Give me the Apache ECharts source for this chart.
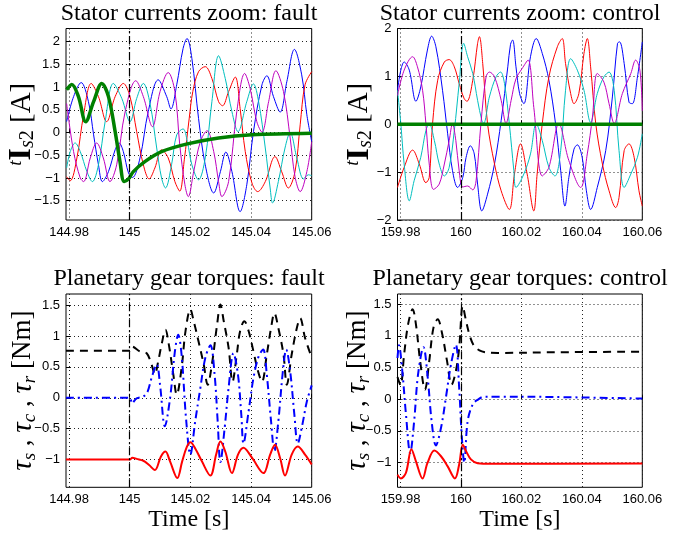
<!DOCTYPE html>
<html><head><meta charset="utf-8">
<script src="https://cdn.jsdelivr.net/npm/echarts@6/dist/echarts.min.js"></script>
<style>html,body{margin:0;padding:0;background:#fff}#c{width:684px;height:539px}</style>
</head><body><div id="c"></div>
<script>
// ---------- tick labels ----------
const xTicksFault = [144.98, 145, 145.02, 145.04, 145.06];
const xTicksCtrl = [159.98, 160, 160.02, 160.04, 160.06];
const yTicksCurFault = [-1.5, -1, -0.5, 0, 0.5, 1, 1.5, 2];
const yTicksCurCtrl = [-2, -1, 0, 1, 2];
const yTicksTorque = [-1, -0.5, 0, 0.5, 1, 1.5];
const faultTime = 145;
const ctrlTime = 160;

// ---------- stator currents: fault ----------
const curFaultBlue = [[144.9792,0.24],[144.9815,0.79],[144.9840,1.10],[144.9864,0.68],[144.9881,-0.05],[144.9897,-0.71],[144.9910,-1.08],[144.9930,-0.86],[144.9952,-0.38],[144.9965,-0.23],[144.9979,-0.42],[144.9996,-0.89],[145.0009,-0.99],[145.0034,-0.56],[145.0061,0.46],[145.0094,1.16],[145.0122,0.79],[145.0136,0.52],[145.0155,1.05],[145.0176,1.85],[145.0189,2.07],[145.0205,1.63],[145.0227,0.31],[145.0249,-0.71],[145.0277,-1.33],[145.0299,-0.86],[145.0317,-0.43],[145.0337,-0.86],[145.0364,-1.74],[145.0386,-1.15],[145.0408,0.02],[145.0436,1.05],[145.0452,1.25],[145.0474,0.79],[145.0496,0.45],[145.0518,1.12],[145.0543,1.83],[145.0567,1.27],[145.0584,0.39],[145.0600,-0.20]];
const curFaultRed = [[144.9792,-0.97],[144.9804,-1.06],[144.9826,-0.56],[144.9848,0.39],[144.9873,1.08],[144.9897,0.79],[144.9924,0.24],[144.9952,0.79],[144.9979,1.08],[145.0001,0.79],[145.0023,0.02],[145.0045,-0.71],[145.0064,-1.02],[145.0083,-0.78],[145.0105,-0.38],[145.0127,-0.56],[145.0149,-1.08],[145.0165,-1.29],[145.0180,-0.60],[145.0196,0.30],[145.0208,0.90],[145.0227,1.34],[145.0249,1.45],[145.0271,1.19],[145.0293,0.68],[145.0306,0.59],[145.0326,0.90],[145.0348,1.22],[145.0364,0.53],[145.0381,-0.42],[145.0403,-1.11],[145.0422,-1.30],[145.0447,-1.08],[145.0479,-0.53],[145.0501,-0.86],[145.0523,-1.22],[145.0545,-0.86],[145.0562,0.17],[145.0578,1.05],[145.0600,1.34]];
const curFaultCyan = [[144.9792,-0.78],[144.9804,-0.42],[144.9820,-0.23],[144.9837,-0.42],[144.9859,-0.86],[144.9877,-1.08],[144.9897,-0.71],[144.9919,0.24],[144.9946,1.08],[144.9974,0.75],[145.0001,0.24],[145.0023,0.75],[145.0045,1.08],[145.0067,0.64],[145.0089,-0.34],[145.0105,-1.00],[145.0118,-1.22],[145.0138,-0.71],[145.0155,-0.05],[145.0176,0.08],[145.0190,-0.20],[145.0205,-0.71],[145.0227,-1.04],[145.0249,-0.56],[145.0271,0.68],[145.0293,1.69],[145.0315,1.19],[145.0337,0.46],[145.0357,0.02],[145.0386,0.68],[145.0408,1.07],[145.0425,0.68],[145.0447,-0.34],[145.0463,-1.22],[145.0471,-1.55],[145.0490,-1.08],[145.0512,-0.34],[145.0529,0.00],[145.0551,-0.56],[145.0573,-1.02],[145.0589,-0.93],[145.0600,-0.95]];
const curFaultMagenta = [[144.9792,0.64],[144.9815,-0.42],[144.9837,-1.00],[144.9848,-1.08],[144.9870,-0.56],[144.9891,-0.23],[144.9913,-0.56],[144.9935,-1.08],[144.9957,-0.71],[144.9985,0.46],[145.0020,1.14],[145.0045,0.79],[145.0075,0.13],[145.0100,0.90],[145.0127,1.32],[145.0149,0.90],[145.0165,-0.27],[145.0182,-1.15],[145.0193,-1.41],[145.0211,-0.86],[145.0233,-0.20],[145.0255,0.04],[145.0277,-0.42],[145.0293,-1.08],[145.0304,-1.41],[145.0326,-1.08],[145.0353,0.46],[145.0379,1.30],[145.0397,0.97],[145.0419,0.24],[145.0436,0.01],[145.0458,0.68],[145.0482,1.36],[145.0507,0.90],[145.0529,-0.12],[145.0545,-0.97],[145.0562,-1.30],[145.0584,-0.86],[145.0600,-0.20]];
const curFaultGreen = [[144.9792,0.94],[144.9809,1.06],[144.9831,0.79],[144.9855,0.24],[144.9881,0.68],[144.9908,1.08],[144.9930,0.79],[144.9952,0.02],[144.9968,-0.64],[144.9982,-1.08],[144.9996,-1.02],[145.0012,-0.86],[145.0050,-0.64],[145.0105,-0.42],[145.0190,-0.25],[145.0293,-0.12],[145.0403,-0.05],[145.0600,-0.015]];

// ---------- stator currents: control ----------
const curCtrlBlue = [[159.9790,0.71],[159.9801,1.13],[159.9812,1.30],[159.9829,1.13],[159.9851,0.48],[159.9867,0.78],[159.9889,1.55],[159.9903,1.84],[159.9917,1.62],[159.9939,0.71],[159.9956,-0.20],[159.9972,-0.97],[159.9989,-1.32],[160.0006,-1.11],[160.0017,-0.69],[160.0031,-0.45],[160.0044,-0.62],[160.0055,-1.25],[160.0069,-1.81],[160.0088,-1.46],[160.0111,-0.83],[160.0133,0.08],[160.0155,1.20],[160.0164,1.67],[160.0171,1.76],[160.0182,1.20],[160.0194,0.64],[160.0208,0.43],[160.0230,1.41],[160.0249,1.79],[160.0269,1.48],[160.0291,0.92],[160.0313,0.01],[160.0330,-0.97],[160.0344,-1.71],[160.0357,-1.11],[160.0374,-0.52],[160.0385,-0.43],[160.0401,-0.69],[160.0415,-1.39],[160.0429,-1.78],[160.0451,-1.32],[160.0479,-0.55],[160.0501,0.57],[160.0518,1.69],[160.0525,1.72],[160.0540,1.27],[160.0556,0.46],[160.0567,0.43],[160.0584,0.99],[160.0600,1.72]];
const curCtrlRed = [[159.9790,-1.32],[159.9812,-0.90],[159.9840,-0.54],[159.9862,-0.83],[159.9884,-1.22],[159.9895,-1.11],[159.9906,0.01],[159.9923,0.92],[159.9945,1.30],[159.9961,1.35],[159.9978,1.20],[159.9994,0.85],[160.0011,0.53],[160.0020,0.48],[160.0039,0.92],[160.0055,1.69],[160.0061,1.83],[160.0072,1.27],[160.0088,0.01],[160.0111,-0.83],[160.0133,-1.39],[160.0160,-1.78],[160.0177,-1.04],[160.0197,-0.41],[160.0219,-1.04],[160.0241,-1.81],[160.0252,-1.04],[160.0269,0.01],[160.0291,0.99],[160.0319,1.62],[160.0335,1.79],[160.0346,1.27],[160.0363,0.64],[160.0374,0.43],[160.0390,0.64],[160.0407,1.48],[160.0418,1.79],[160.0429,1.20],[160.0446,0.01],[160.0468,-0.83],[160.0490,-1.39],[160.0512,-1.74],[160.0523,-1.53],[160.0540,-0.55],[160.0556,-0.41],[160.0573,-0.69],[160.0589,-1.39],[160.0600,-1.71]];
const curCtrlCyan = [[159.9790,0.71],[159.9801,0.01],[159.9812,-0.83],[159.9829,-1.60],[159.9845,-1.18],[159.9867,-0.69],[159.9884,-0.13],[159.9895,0.01],[159.9912,-0.34],[159.9928,-0.83],[159.9945,-1.08],[159.9961,-0.90],[159.9978,-0.13],[159.9994,0.85],[160.0009,1.69],[160.0022,1.41],[160.0039,1.06],[160.0055,0.50],[160.0069,0.08],[160.0075,0.02],[160.0094,0.57],[160.0116,0.99],[160.0131,1.09],[160.0144,0.85],[160.0160,0.01],[160.0175,-0.97],[160.0182,-1.32],[160.0208,-1.04],[160.0230,-0.62],[160.0249,0.01],[160.0269,-0.34],[160.0291,-0.90],[160.0311,-1.08],[160.0330,-0.55],[160.0346,0.71],[160.0363,1.37],[160.0385,1.13],[160.0407,0.71],[160.0429,0.04],[160.0451,0.64],[160.0473,0.99],[160.0490,1.09],[160.0507,0.71],[160.0523,-0.55],[160.0540,-1.32],[160.0562,-1.04],[160.0584,-0.69],[160.0600,-0.20]];
const curCtrlMagenta = [[159.9790,0.60],[159.9812,1.13],[159.9840,1.41],[159.9856,1.20],[159.9873,0.71],[159.9884,0.01],[159.9895,-0.83],[159.9909,-1.36],[159.9928,-1.25],[159.9945,-0.83],[159.9961,-0.34],[159.9972,0.01],[159.9983,-0.34],[159.9994,-0.97],[160.0006,-1.31],[160.0022,-1.29],[160.0039,-1.37],[160.0050,-1.18],[160.0066,0.01],[160.0083,0.99],[160.0094,1.09],[160.0111,0.99],[160.0133,0.50],[160.0149,0.02],[160.0166,0.50],[160.0182,0.95],[160.0202,1.16],[160.0222,1.34],[160.0241,0.35],[160.0269,-1.08],[160.0291,-0.90],[160.0324,0.01],[160.0357,-0.76],[160.0396,-1.32],[160.0418,-0.62],[160.0435,0.15],[160.0451,1.06],[160.0473,0.88],[160.0490,0.43],[160.0507,0.02],[160.0534,0.64],[160.0562,1.06],[160.0578,1.34],[160.0592,1.13],[160.0600,0.28]];
const curCtrlGreen = [[159.979,0],[160.06,0]];

// ---------- planetary gear torques: fault ----------
const trqFaultBlack = [[144.979,0.76],[145.0,0.76],[145.0007,0.83],[145.0034,0.75],[145.0056,0.72],[145.0072,0.54],[145.0083,0.38],[145.0094,0.59],[145.0105,0.86],[145.0118,1.10],[145.0129,0.86],[145.0144,0.37],[145.0155,0.05],[145.0171,0.48],[145.0184,1.08],[145.0200,1.43],[145.0211,1.24],[145.0227,0.91],[145.0244,0.54],[145.0257,0.21],[145.0271,0.54],[145.0288,1.18],[145.0299,1.51],[145.0310,1.24],[145.0326,0.81],[145.0339,0.26],[145.0353,0.70],[145.0364,1.08],[145.0378,1.24],[145.0392,1.08],[145.0408,0.75],[145.0422,0.45],[145.0436,0.26],[145.0452,0.70],[145.0466,1.13],[145.0477,1.37],[145.0490,1.13],[145.0507,0.70],[145.0518,0.21],[145.0534,0.70],[145.0551,1.13],[145.0562,1.29],[145.0578,0.97],[145.0600,0.65]];
const trqFaultBlue = [[144.979,0],[145.0,0],[145.0007,-0.09],[145.0023,-0.01],[145.0045,0.02],[145.0059,0.10],[145.0072,0.32],[145.0089,0.54],[145.0100,0.21],[145.0116,-0.46],[145.0133,-0.01],[145.0149,0.75],[145.0160,1.02],[145.0171,0.70],[145.0186,-0.35],[145.0200,-0.92],[145.0216,-0.38],[145.0233,0.16],[145.0249,0.64],[145.0266,0.85],[145.0280,0.37],[145.0290,-0.38],[145.0299,-1.04],[145.0313,-0.49],[145.0326,0.16],[145.0342,0.72],[145.0357,0.37],[145.0368,-0.28],[145.0375,-0.74],[145.0392,-0.22],[145.0408,0.32],[145.0425,0.67],[145.0440,0.78],[145.0452,0.37],[145.0466,-0.38],[145.0477,-0.87],[145.0490,-0.38],[145.0505,0.43],[145.0516,0.78],[145.0529,0.43],[145.0543,-0.28],[145.0554,-0.74],[145.0569,-0.44],[145.0584,-0.06],[145.0600,0.20]];
const trqFaultRed = [[144.979,-1.0],[145.0,-1.0],[145.0009,-0.97],[145.0023,-0.99],[145.0045,-1.02],[145.0064,-1.09],[145.0083,-1.17],[145.0103,-0.95],[145.0118,-0.87],[145.0133,-1.03],[145.0157,-1.30],[145.0173,-1.03],[145.0188,-0.80],[145.0200,-0.72],[145.0216,-0.82],[145.0238,-1.03],[145.0266,-1.26],[145.0285,-0.92],[145.0299,-0.71],[145.0315,-0.87],[145.0337,-1.22],[145.0357,-0.92],[145.0375,-0.81],[145.0403,-0.97],[145.0441,-1.22],[145.0463,-0.92],[145.0479,-0.76],[145.0496,-0.98],[145.0512,-1.26],[145.0534,-0.92],[145.0554,-0.79],[145.0578,-0.92],[145.0600,-1.08]];

// ---------- planetary gear torques: control ----------
const trqCtrlBlack = [[159.979,0.35],[159.9800,0.22],[159.9812,0.71],[159.9825,1.18],[159.9840,1.42],[159.9851,1.18],[159.9865,0.60],[159.9881,0.15],[159.9895,0.60],[159.9909,1.13],[159.9923,1.26],[159.9937,1.05],[159.9954,0.60],[159.9969,0.23],[159.9983,0.44],[159.9994,0.81],[160.0006,1.47],[160.0017,1.23],[160.0028,1.02],[160.0042,0.85],[160.0061,0.77],[160.0083,0.74],[160.0122,0.73],[160.0300,0.74],[160.0600,0.75]];
const trqCtrlBlue = [[159.979,0.65],[159.9795,0.85],[159.9806,0.44],[159.9818,-0.24],[159.9832,-0.85],[159.9845,-0.35],[159.9858,0.39],[159.9876,0.82],[159.9889,0.39],[159.9903,-0.35],[159.9917,-0.73],[159.9934,-0.45],[159.9950,0.02],[159.9967,0.55],[159.9983,0.86],[159.9994,0.18],[160.0003,-0.61],[160.0011,-1.00],[160.0022,-0.35],[160.0039,-0.08],[160.0055,-0.01],[160.0077,0.04],[160.0122,0.04],[160.0300,0.035],[160.0600,0.01]];
const trqCtrlRed = [[159.979,-1.19],[159.9801,-1.25],[159.9818,-1.16],[159.9836,-0.79],[159.9851,-0.98],[159.9873,-1.25],[159.9889,-1.01],[159.9912,-0.81],[159.9934,-0.90],[159.9956,-1.06],[159.9980,-1.25],[159.9994,-1.03],[160.0006,-0.72],[160.0017,-0.82],[160.0033,-0.95],[160.0055,-1.01],[160.0100,-1.02],[160.0600,-1.015]];

// ---------- styling ----------
const SERIF = '"Liberation Serif","Times New Roman",serif';
const SANS = '"Liberation Sans",Arial,Helvetica,sans-serif';
const BLUE = '#0000ff', RED = '#ff0000', CYAN = '#00bfbf', MAG = '#bf00bf', GREEN = '#008000', BLACK = '#000000';
const fmt = v => String(Math.round(v * 100) / 100).replace('-', '\u2212');

const grids = [
  {left: 66, top: 28.5, width: 245.7, height: 191.5},
  {left: 397.5, top: 28.5, width: 244.8, height: 191.5},
  {left: 66, top: 294, width: 245.7, height: 193.3},
  {left: 397.5, top: 294, width: 244.8, height: 193.3}
].map(g => Object.assign({show: true, borderColor: '#000', borderWidth: 1, backgroundColor: 'transparent', containLabel: false}, g));

function xAx(i, min, max, ticks, name) {
  return {
    type: 'value', gridIndex: i, min: min, max: max,
    axisLine: {show: false},
    axisTick: {show: true, inside: true, length: 4, lineStyle: {color: '#000'}, customValues: ticks},
    axisLabel: {customValues: ticks, formatter: fmt, color: '#000', fontFamily: SANS, fontSize: 13, margin: 6},
    splitLine: {show: true, lineStyle: {color: '#222', type: [1, 3], width: 1}},
    name: name || '', nameLocation: 'middle', nameGap: 20, nameMoveOverlap: false,
    nameTextStyle: {fontFamily: SERIF, fontSize: 24, color: '#000', verticalAlign: 'top'}
  };
}
function yAx(i, min, max, ticks, name, rich, gap) {
  return {
    type: 'value', gridIndex: i, min: min, max: max,
    axisLine: {show: false},
    axisTick: {show: true, inside: true, length: 4, lineStyle: {color: '#000'}, customValues: ticks},
    axisLabel: {customValues: ticks, formatter: fmt, color: '#000', fontFamily: SANS, fontSize: 13, margin: 6},
    splitLine: {show: true, lineStyle: {color: '#222', type: [1, 3], width: 1}},
    name: name, nameLocation: 'middle', nameGap: gap, nameRotate: 90, nameMoveOverlap: false,
    nameTextStyle: {fontFamily: SERIF, fontSize: 28, color: '#000', rich: rich}
  };
}
const richCur = {
  t: {fontFamily: SERIF, fontSize: 19, fontStyle: 'italic', verticalAlign: 'top', lineHeight: 19, color: '#000'},
  I: {fontFamily: SERIF, fontSize: 32, fontWeight: 'bold', lineHeight: 32, color: '#000'},
  s: {fontFamily: SERIF, fontSize: 20, fontStyle: 'italic', verticalAlign: 'bottom', lineHeight: 20, color: '#000'},
  d: {fontFamily: SERIF, fontSize: 20, verticalAlign: 'bottom', lineHeight: 20, color: '#000'},
  n: {fontFamily: SERIF, fontSize: 29, lineHeight: 32, color: '#000'}
};
const richTrq = {
  tau: {fontFamily: SERIF, fontSize: 29, fontStyle: 'italic', lineHeight: 32, color: '#000'},
  sub: {fontFamily: SERIF, fontSize: 19, fontStyle: 'italic', verticalAlign: 'bottom', lineHeight: 19, color: '#000'},
  n: {fontFamily: SERIF, fontSize: 27, lineHeight: 32, color: '#000'}
};
const nameCur = '{t|t}{I|I}{s|s}{d|2}{n| [A]}';
const nameTrq = '{tau|\u03c4}{sub|s}{n| , }{tau|\u03c4}{sub|c}{n| , }{tau|\u03c4}{sub|r}{n| [Nm]}';

function line(i, data, color, width, type, z) {
  return {
    type: 'line', xAxisIndex: i, yAxisIndex: i, data: data,
    showSymbol: false, symbol: 'none', smooth: 0.35, silent: true, clip: true,
    lineStyle: {color: color, width: width, type: type || 'solid'}, itemStyle: {color: color}, z: z || 2
  };
}
function withFault(s, t) {
  s.markLine = {silent: true, symbol: ['none', 'none'], label: {show: false}, animation: false,
    lineStyle: {color: '#000', type: [8, 3, 2, 3], width: 1.2}, data: [{xAxis: t}]};
  return s;
}
const DASH = [8, 6], DASHDOT = [8, 4, 2, 4];

const titleStyle = {fontFamily: SERIF, fontSize: 24, fontWeight: 'normal', color: '#000'};
const option = {
  animation: false,
  backgroundColor: '#fff',
  title: [
    {text: 'Stator currents zoom: fault', left: 189, top: 2, textAlign: 'center', padding: 0, textStyle: titleStyle},
    {text: 'Stator currents zoom: control', left: 520, top: 2, textAlign: 'center', padding: 0, textStyle: titleStyle},
    {text: 'Planetary gear torques: fault', left: 189, top: 267, textAlign: 'center', padding: 0, textStyle: titleStyle},
    {text: 'Planetary gear torques: control', left: 520, top: 267, textAlign: 'center', padding: 0, textStyle: titleStyle}
  ],
  grid: grids,
  xAxis: [
    xAx(0, 144.979, 145.06, xTicksFault),
    xAx(1, 159.979, 160.06, xTicksCtrl),
    xAx(2, 144.979, 145.06, xTicksFault, 'Time [s]'),
    xAx(3, 159.979, 160.06, xTicksCtrl, 'Time [s]')
  ],
  yAxis: [
    yAx(0, -1.925, 2.29, yTicksCurFault, nameCur, richCur, 28),
    yAx(1, -2, 2, yTicksCurCtrl, nameCur, richCur, 22),
    yAx(2, -1.45, 1.68, yTicksTorque, nameTrq, richTrq, 27),
    yAx(3, -1.39, 1.66, yTicksTorque, nameTrq, richTrq, 24)
  ],
  series: [
    withFault(line(0, curFaultBlue, BLUE, 1), faultTime),
    line(0, curFaultRed, RED, 1),
    line(0, curFaultCyan, CYAN, 1),
    line(0, curFaultMagenta, MAG, 1),
    line(0, curFaultGreen, GREEN, 3.5, 'solid', 3),
    withFault(line(1, curCtrlBlue, BLUE, 1), ctrlTime),
    line(1, curCtrlRed, RED, 1),
    line(1, curCtrlCyan, CYAN, 1),
    line(1, curCtrlMagenta, MAG, 1),
    line(1, curCtrlGreen, GREEN, 3.5, 'solid', 3),
    withFault(line(2, trqFaultBlack, BLACK, 2, DASH), faultTime),
    line(2, trqFaultBlue, BLUE, 2, DASHDOT),
    line(2, trqFaultRed, RED, 2),
    withFault(line(3, trqCtrlBlack, BLACK, 2, DASH), ctrlTime),
    line(3, trqCtrlBlue, BLUE, 2, DASHDOT),
    line(3, trqCtrlRed, RED, 2)
  ]
};
const chart = echarts.init(document.getElementById('c'), null, {renderer: 'canvas'});
chart.setOption(option);
</script></body></html>
